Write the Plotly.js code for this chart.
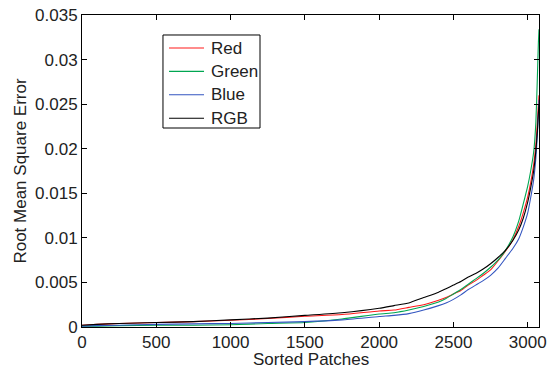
<!DOCTYPE html>
<html>
<head>
<meta charset="utf-8">
<script src="https://cdn.plot.ly/plotly-3.0.1.min.js"></script>
<style>html,body{margin:0;padding:0;background:#fff;}#plot{width:550px;height:368px;}</style>
</head>
<body>
<div id="plot"></div>
<script>
const patches = [0, 100, 250, 500, 750, 1000, 1250, 1500, 1750, 2000, 2100, 2200, 2300, 2400, 2450, 2500, 2550, 2600, 2650, 2700, 2750, 2800, 2850, 2900, 2940, 2970, 3000, 3020, 3040, 3055, 3065, 3072, 3076];
const redErr = [0.0002, 0.0003, 0.0004, 0.0005, 0.0006, 0.00075, 0.00095, 0.0012, 0.0014, 0.0018, 0.0019, 0.0022, 0.0025, 0.0030, 0.0033, 0.0037, 0.0041, 0.0047, 0.0052, 0.0058, 0.0064, 0.0074, 0.0085, 0.0098, 0.0113, 0.0128, 0.0146, 0.0162, 0.0182, 0.0205, 0.023, 0.025, 0.026];
const greenErr = [0.0001, 0.0001, 0.00015, 0.0002, 0.0002, 0.00025, 0.0004, 0.0005, 0.0009, 0.00146, 0.0016, 0.0019, 0.0023, 0.0028, 0.0032, 0.0037, 0.0042, 0.0048, 0.0054, 0.0060, 0.0067, 0.0075, 0.0086, 0.0101, 0.0119, 0.0138, 0.0158, 0.0175, 0.0196, 0.023, 0.028, 0.032, 0.0334];
const blueErr = [0.0001, 0.00015, 0.0002, 0.0003, 0.00035, 0.0004, 0.0005, 0.0006, 0.0008, 0.00118, 0.0013, 0.0015, 0.0019, 0.0024, 0.0027, 0.0031, 0.0036, 0.0042, 0.0047, 0.0052, 0.0058, 0.0066, 0.0077, 0.0088, 0.0099, 0.0112, 0.0128, 0.0145, 0.0165, 0.019, 0.0215, 0.024, 0.0255];
const rgbErr = [0.0002, 0.0003, 0.0004, 0.0005, 0.0006, 0.0008, 0.001, 0.0013, 0.0016, 0.0021, 0.0024, 0.0027, 0.0033, 0.0039, 0.0043, 0.0047, 0.0051, 0.0056, 0.0060, 0.0065, 0.0071, 0.0078, 0.0086, 0.0097, 0.0109, 0.0122, 0.014, 0.0156, 0.0175, 0.0198, 0.022, 0.024, 0.025];
const seriesNames = ['Red', 'Green', 'Blue', 'RGB'];
const xTitle = 'Sorted Patches';
const yTitle = 'Root Mean Square Error';

const colors = ['#ff1a1a', '#00a651', '#3355c0', '#000000'];
const ys = [redErr, greenErr, blueErr, rgbErr];
const traces = seriesNames.map((n, i) => ({
  x: patches, y: ys[i], name: n, type: 'scatter', mode: 'lines',
  line: {color: colors[i], width: 1.1, shape: 'spline', smoothing: 0.5}
}));

const font = {family: 'Liberation Sans, Arial, Helvetica, sans-serif', size: 17, color: '#222'};

// legend drawn as layout shapes/annotations (paper coordinates)
const legX0 = 0.1772, legX1 = 0.3895, legY0 = 0.6378, legY1 = 0.9359;
const lineX0 = 0.1904, lineX1 = 0.2670, textX = 0.2779, rowY0 = 0.8942, rowStep = 0.0750;
const shapes = [{type: 'rect', xref: 'paper', yref: 'paper', x0: legX0, x1: legX1, y0: legY0, y1: legY1,
  line: {color: '#000', width: 1}, fillcolor: '#fff', layer: 'above'}];
const annotations = [];
seriesNames.forEach((n, i) => {
  const yy = rowY0 - i * rowStep;
  shapes.push({type: 'line', xref: 'paper', yref: 'paper', x0: lineX0, x1: lineX1, y0: yy, y1: yy,
    line: {color: colors[i], width: 1.1}, layer: 'above'});
  annotations.push({xref: 'paper', yref: 'paper', x: textX, y: yy, xanchor: 'left', yanchor: 'middle',
    text: n, showarrow: false, font: font});
});
// x-axis title placed just below the tick labels
annotations.push({xref: 'paper', yref: 'paper', x: 0.5, y: -0.072, xanchor: 'center', yanchor: 'top',
  text: xTitle, showarrow: false, font: font, borderpad: 0});

const layout = {
  width: 550, height: 368,
  margin: {l: 82, r: 11, t: 15, b: 41},
  paper_bgcolor: '#fff', plot_bgcolor: '#fff',
  font: font,
  showlegend: false,
  shapes: shapes,
  annotations: annotations,
  xaxis: {
    range: [0, 3076], tickvals: [0, 500, 1000, 1500, 2000, 2500, 3000],
    ticks: 'inside', ticklen: 5, tickcolor: '#000', showline: true, linecolor: '#000', linewidth: 1, mirror: 'ticks',
    showgrid: false, zeroline: false, tickfont: font
  },
  yaxis: {
    range: [0, 0.035], tickvals: [0, 0.005, 0.01, 0.015, 0.02, 0.025, 0.03, 0.035],
    ticktext: ['0', '0.005', '0.01', '0.015', '0.02', '0.025', '0.03', '0.035'],
    ticks: 'inside', ticklen: 5, tickcolor: '#000', showline: true, linecolor: '#000', linewidth: 1, mirror: 'ticks',
    showgrid: false, zeroline: false, tickfont: font,
    title: {text: yTitle, font: font, standoff: 4}
  }
};
Plotly.newPlot('plot', traces, layout, {displayModeBar: false, staticPlot: true});
</script>
</body>
</html>
